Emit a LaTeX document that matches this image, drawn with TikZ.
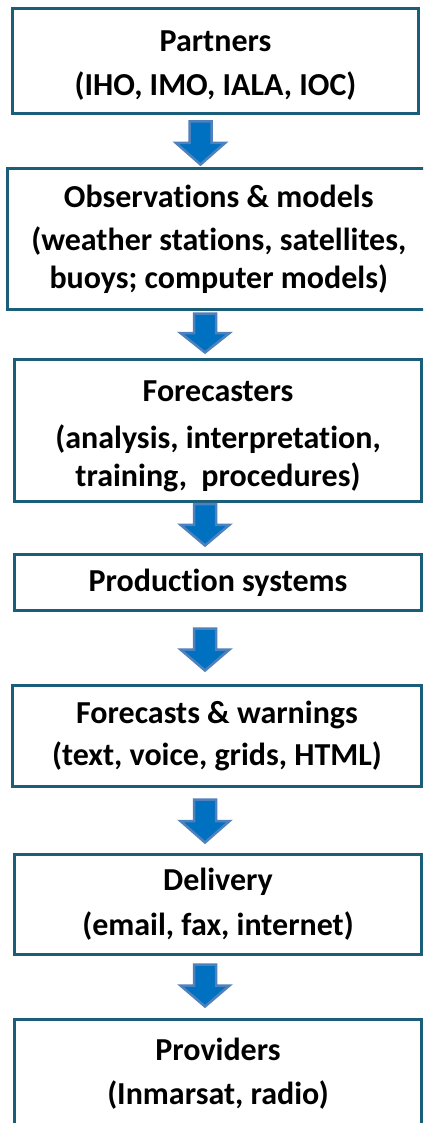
\documentclass[tikz,border=0pt]{standalone}
\usepackage{fontspec}
\setmainfont{Carlito}[Ligatures={NoCommon}]
\usetikzlibrary{calc}
\definecolor{boxline}{HTML}{1A5E7A}
\definecolor{arrfill}{HTML}{0070C0}
\definecolor{arrline}{HTML}{4F81BD}
\tikzset{
  flowbox/.style={draw=boxline, line width=3pt, rectangle, align=center, inner sep=0pt,
    font=\fontsize{32}{38}\selectfont\bfseries, text=black},
  blockarr/.style={fill=arrfill, draw=arrline, line width=2.5pt, line join=miter},
}
% #1 from node, #2 to node, #3 centre x, #4 gap below #1, #5 gap above #2
\newcommand\flowarrow[5]{%
  \draw[blockarr] let \p1=(#1.south), \p2=(#2.north),
     \n1={\y1-#4pt}, \n2={\y2+#5pt}, \n3={0.5*(\y1-#4pt+\y2+#5pt)} in
    (#3pt-11pt,\n1) -- (#3pt+11pt,\n1) -- (#3pt+11pt,\n3) -- (#3pt+24.5pt,\n3)
    -- (#3pt,\n2) -- (#3pt-24.5pt,\n3) -- (#3pt-11pt,\n3) -- cycle;}
\begin{document}
\begin{tikzpicture}[x=1pt,y=-1pt]
\useasboundingbox (0,0) rectangle (423,1123);
\clip (0,0) rectangle (423,1123);
\fill[white] (0,0) rectangle (423,1123);

\node[flowbox, minimum width=406pt, minimum height=105pt] (b1) at (215.5,61)
  {\rule{0pt}{30pt}Partners\\[6pt](IHO, IMO, IALA, IOC)};
\node[flowbox, minimum width=422.5pt, minimum height=141pt] (b2) at (218.75,239)
  {Observations \& models\\[5pt](weather stations, satellites,\\buoys; computer models)};
\node[flowbox, minimum width=407pt, minimum height=142pt] (b3) at (218,430.5)
  {\rule{0pt}{32pt}Forecasters\\[9pt](analysis, interpretation,\\training,\ \ procedures)};
\node[flowbox, minimum width=407pt, minimum height=56pt] (b4) at (218,582.5)
  {Production systems};
\node[flowbox, minimum width=409pt, minimum height=101pt] (b5) at (217,736)
  {Forecasts \& warnings\\[4pt](text, voice, grids, HTML)};
\node[flowbox, minimum width=407pt, minimum height=100pt] (b6) at (218,904.5)
  {Delivery\\[7pt](email, fax, internet)};
\node[flowbox, minimum width=407pt, minimum height=109pt] (b7) at (218,1074)
  {Providers\\[6pt](Inmarsat, radio)};

\flowarrow{b1}{b2}{200.5}{6.5}{2.5}
\flowarrow{b2}{b3}{205}{2.5}{5.5}
\flowarrow{b3}{b4}{205}{1}{7.5}
\flowarrow{b4}{b5}{205}{16.5}{13.5}
\flowarrow{b5}{b6}{205}{11.5}{10.5}
\flowarrow{b6}{b7}{205}{8.5}{11.5}
\end{tikzpicture}
\end{document}
